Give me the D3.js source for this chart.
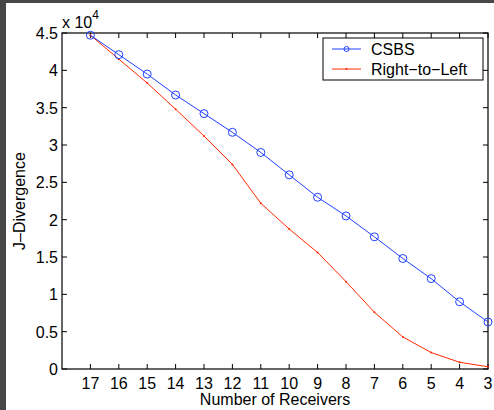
<!DOCTYPE html>
<html>
<head>
<meta charset="utf-8">
<script src="https://cdn.jsdelivr.net/npm/d3@7"></script>
<style>
  html, body { margin: 0; padding: 0; background: #fff; }
  svg { display: block; font-family: "Liberation Sans", Arial, sans-serif; }
</style>
</head>
<body>
<div id="canvas"></div>
<script>
// J-Divergence vs number of receivers (two series, reversed x axis)
const receivers = [17, 16, 15, 14, 13, 12, 11, 10, 9, 8, 7, 6, 5, 4, 3];
const csbs = [44700, 42100, 39500, 36700, 34200, 31700, 29000, 26000, 23000, 20500, 17700, 14800, 12100, 9000, 6300];
const rightToLeft = [44700, 41500, 38300, 34800, 31200, 27400, 22200, 18750, 15600, 11700, 7600, 4300, 2200, 900, 300];
const yTicks = [0, 0.5, 1, 1.5, 2, 2.5, 3, 3.5, 4, 4.5];
const seriesNames = ["CSBS", "Right\u2212to\u2212Left"];

(function() {
    const W = 494, H = 410;
    const m = { left: 62, right: 6, top: 33, bottom: 41 };
    const blue = "#2040ff", red = "#ff2a00";

    const svg = d3.select('#canvas').append('svg')
        .attr('width', W).attr('height', H);

    // dark frame strips on top and left edges
    svg.append('rect').attr('x', 0).attr('y', 0).attr('width', W).attr('height', 3).attr('fill', '#474747');
    svg.append('rect').attr('x', 0).attr('y', 0).attr('width', 6).attr('height', H).attr('fill', '#474747');

    const x = d3.scaleLinear().domain([18, 3]).range([m.left, W - m.right]);
    const y = d3.scaleLinear().domain([0, 4.5]).range([H - m.bottom, m.top]);

    const g = svg.append('g');
    const tl = 5;

    // x ticks (bottom + top mirror), inward
    receivers.forEach(r => {
        g.append('line').attr('x1', x(r)).attr('x2', x(r))
            .attr('y1', y(0)).attr('y2', y(0) - tl).attr('stroke', '#000');
        g.append('line').attr('x1', x(r)).attr('x2', x(r))
            .attr('y1', y(4.5)).attr('y2', y(4.5) + tl).attr('stroke', '#000');
        g.append('text').attr('x', x(r)).attr('y', y(0) + 20)
            .attr('text-anchor', 'middle').attr('font-size', 16).text(r);
    });

    // y ticks (left + right mirror)
    yTicks.forEach(v => {
        g.append('line').attr('x1', x(18)).attr('x2', x(18) + tl)
            .attr('y1', y(v)).attr('y2', y(v)).attr('stroke', '#000');
        g.append('line').attr('x1', x(3)).attr('x2', x(3) - tl)
            .attr('y1', y(v)).attr('y2', y(v)).attr('stroke', '#000');
        g.append('text').attr('x', x(18) - 4).attr('y', y(v) + 6)
            .attr('text-anchor', 'end').attr('font-size', 16).text(v);
    });

    // axes box
    g.append('rect').attr('x', x(18)).attr('y', y(4.5))
        .attr('width', x(3) - x(18)).attr('height', y(0) - y(4.5))
        .attr('fill', 'none').attr('stroke', '#000').attr('stroke-width', 1.2);

    // exponent label
    const ex = g.append('text').attr('x', x(18)).attr('y', 28).attr('font-size', 16);
    ex.append('tspan').text('x 10');
    ex.append('tspan').attr('dy', -9).attr('font-size', 12).text('4');

    // lines
    const line = d3.line().x(d => x(d[0])).y(d => y(d[1] / 1e4));
    const redData = receivers.map((r, i) => [r, rightToLeft[i]]);
    const blueData = receivers.map((r, i) => [r, csbs[i]]);

    g.append('path').attr('d', line(redData)).attr('fill', 'none')
        .attr('stroke', red).attr('stroke-width', 1);
    g.selectAll('.rdot').data(redData).join('circle')
        .attr('cx', d => x(d[0])).attr('cy', d => y(d[1] / 1e4)).attr('r', 1)
        .attr('fill', red);

    g.append('path').attr('d', line(blueData)).attr('fill', 'none')
        .attr('stroke', blue).attr('stroke-width', 1);
    g.selectAll('.bdot').data(blueData).join('circle')
        .attr('cx', d => x(d[0])).attr('cy', d => y(d[1] / 1e4)).attr('r', 4)
        .attr('fill', 'none').attr('stroke', blue).attr('stroke-width', 1);

    // legend
    const lg = g.append('g');
    lg.append('rect').attr('x', 323).attr('y', 38).attr('width', 160).attr('height', 42)
        .attr('fill', '#fff').attr('stroke', '#000').attr('stroke-width', 1);
    [blue, red].forEach((c, i) => {
        const ly = 49 + i * 20;
        lg.append('line').attr('x1', 332).attr('x2', 361).attr('y1', ly).attr('y2', ly)
            .attr('stroke', c);
        if (i === 0) lg.append('circle').attr('cx', 346.5).attr('cy', ly).attr('r', 2.5)
            .attr('fill', 'none').attr('stroke', c);
        else lg.append('circle').attr('cx', 346.5).attr('cy', ly).attr('r', 1).attr('fill', c);
        lg.append('text').attr('x', 371).attr('y', ly + 6).attr('font-size', 16).text(seriesNames[i]);
    });

    // axis labels
    g.append('text').attr('x', (x(18) + x(3)) / 2).attr('y', 405)
        .attr('text-anchor', 'middle').attr('font-size', 16).text('Number of Receivers');
    g.append('text').attr('transform', `translate(25,${(y(0) + y(4.5)) / 2}) rotate(-90)`)
        .attr('text-anchor', 'middle').attr('font-size', 16).text('J\u2013Divergence');
})();
</script>
</body>
</html>
